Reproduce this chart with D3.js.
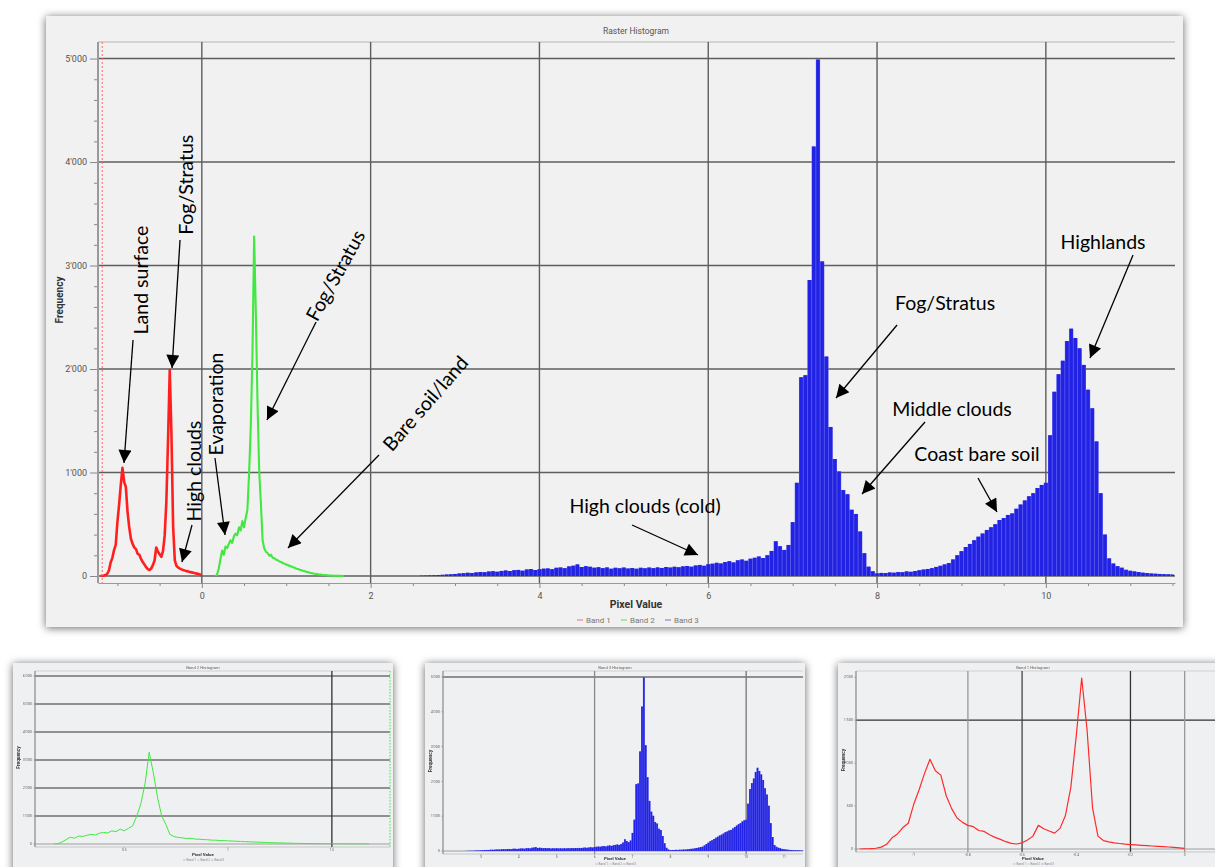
<!DOCTYPE html>
<html>
<head>
<meta charset="utf-8">
<script src="https://d3js.org/d3.v7.min.js"></script>
<style>
  body { margin: 0; background: #fff; }
  svg { display: block; }
  .note { font-family: Lato, "Open Sans", sans-serif; font-size: 19.5px; fill: #000; }
</style>
</head>
<body>
<svg id="chart" width="1215" height="867"></svg>
<script>

// Band 1 (red) - bins of 0.02 starting at -1.20
var band1Start = -1.20, band1Step = 0.02;
var band1 = [0, 2, 4, 9, 22, 55, 130, 175, 250, 300,
             520, 690, 880, 1045, 910, 860, 620, 470, 360, 310,
             275, 260, 215, 205, 165, 135, 112, 85, 66, 58,
             72, 105, 150, 275, 235, 210, 185, 240, 390, 720,
             1320, 1990, 1380, 480, 150, 98, 82, 72, 64, 57,
             52, 47, 43, 39, 35, 31, 27, 23, 19, 14, 8];

// Band 2 (green) - bins of 0.02 starting at 0.16
var band2Start = 0.16, band2Step = 0.02;
var band2 = [0, 12, 70, 160, 245, 205, 285, 270, 310, 345,
             320, 385, 410, 395, 470, 440, 530, 470, 560, 640,
             990, 1440, 2150, 3280, 2540, 1670, 1010, 700, 345, 265,
             235, 220, 196, 205, 176, 172, 158, 152, 140, 136,
             124, 120, 110, 106, 97, 93, 84, 80, 71, 67,
             60, 56, 50, 46, 40, 37, 32, 29, 25, 22,
             19, 16, 14, 12, 10, 9, 8, 6, 5, 4,
             3, 2, 2, 1, 1, 0, 0];

// Band 3 (blue) - bins of 0.05 starting at 2.60
var band3Start = 2.60, band3Step = 0.05;
var band3 = [3, 4, 6, 7, 9, 11, 14, 16, 20, 24,
             27, 31, 29, 35, 38, 36, 43, 46, 41, 49,
             53, 48, 56, 59, 51, 63, 67, 58, 65, 71,
             73, 66, 79, 82, 75, 93, 99, 112, 87, 95,
             89, 80, 85, 76, 83, 70, 79, 74, 81, 72,
             77, 70, 79, 74, 81, 76, 83, 78, 87, 81,
             89, 84, 93, 97, 90, 101, 107, 98, 113, 119,
             127, 121, 135, 143, 131, 151, 159, 147, 167, 176,
             188, 174, 200, 242, 335, 288, 252, 300, 520, 900,
             1920, 1940, 2860, 4150, 4990, 3040, 2120, 1440, 1130, 1010,
             830, 790, 640, 600, 430, 220, 90, 45, 25, 30,
             28, 34, 32, 38, 36, 44, 40, 48, 55, 62,
             68, 76, 88, 98, 112, 125, 160, 200, 240, 280,
             310, 345, 380, 410, 445, 470, 500, 540, 560, 590,
             605, 650, 690, 730, 770, 800, 850, 880, 900, 1360,
             1780, 1950, 2080, 2270, 2390, 2300, 2200, 2040, 1800, 1620,
             1300, 800, 400, 170, 120, 95, 80, 60, 50, 44,
             38, 32, 28, 24, 22, 20, 18, 16, 14];

var xTicks = [0, 2, 4, 6, 8, 10];
var yTicks = [0, 1000, 2000, 3000, 4000, 5000];
var legendLabels = ["Band 1", "Band 2", "Band 3"];
var legendColors = ["#f29a9a", "#92e092", "#9d9de6"];

var notes = [
  {label: "Land surface", tx: -0.73, ty: 2860, rot: -90, sx: -0.815, sy: 2280, ex: -0.922, ey: 1092},
  {label: "Fog/Stratus", tx: -0.19, ty: 3780, rot: -90, sx: -0.258, sy: 3246, ex: -0.353, ey: 2010},
  {label: "High clouds", tx: -0.093, ty: 1014, rot: -90, sx: -0.116, sy: 493, ex: -0.235, ey: 135},
  {label: "Evaporation", tx: 0.168, ty: 1662, rot: -90, sx: 0.156, sy: 1140, ex: 0.275, ey: 396},
  {label: "Fog/Stratus", tx: 1.578, ty: 2908, rot: -61, sx: 1.353, sy: 2454, ex: 0.772, ey: 1507},
  {label: "Bare soil/land", tx: 2.644, ty: 1671, rot: -49, sx: 2.099, sy: 1169, ex: 1.021, ey: 271},
  {label: "High clouds (cold)", tx: 5.251, ty: 686, rot: 0, sx: 5.097, sy: 493, ex: 5.879, ey: 203},
  {label: "Fog/Stratus", tx: 8.806, ty: 2638, rot: 0, sx: 8.237, sy: 2425, ex: 7.514, ey: 1720},
  {label: "Middle clouds", tx: 8.888, ty: 1623, rot: 0, sx: 8.568, sy: 1488, ex: 7.822, ey: 792},
  {label: "Coast bare soil", tx: 9.184, ty: 1188, rot: 0, sx: 9.196, sy: 947, ex: 9.421, ey: 618},
  {label: "Highlands", tx: 10.677, ty: 3237, rot: 0, sx: 11.033, sy: 3101, ex: 10.523, ey: 2106}
];

function bins(values, start, step) {
  return values.map(function(v, i) { return {x: start + i * step, v: v}; });
}
var red = bins(band1, band1Start, band1Step);
var green = bins(band2, band2Start, band2Step);
var blue = bins(band3, band3Start, band3Step);

var fmt = d3.formatLocale({decimal: ".", thousands: "'", grouping: [3], currency: ["", ""]}).format(",");
var axisFont = "Roboto, 'Noto Sans', sans-serif";

var svg = d3.select("#chart");
var defs = svg.append("defs");

var shadow = defs.append("filter").attr("id", "shadow")
    .attr("x", "-5%").attr("y", "-5%").attr("width", "110%").attr("height", "115%");
shadow.append("feDropShadow").attr("dx", 0).attr("dy", 1).attr("stdDeviation", 4)
    .attr("flood-color", "#000").attr("flood-opacity", 0.6);

defs.append("filter").attr("id", "soft")
  .append("feGaussianBlur").attr("stdDeviation", 0.45);

defs.append("marker").attr("id", "head")
    .attr("viewBox", "0 0 10 10").attr("refX", 10).attr("refY", 5)
    .attr("markerUnits", "userSpaceOnUse")
    .attr("markerWidth", 15).attr("markerHeight", 13).attr("orient", "auto")
  .append("path").attr("d", "M0,0 L10,5 L0,10 z").attr("fill", "#000");

function drawLine(g, sx, sy, data, color, width) {
  g.append("path").datum(data)
    .attr("fill", "none").attr("stroke", color).attr("stroke-width", width)
    .attr("stroke-linejoin", "round")
    .attr("d", d3.line().x(d => sx(d.x)).y(d => sy(d.v)));
}

function drawBars(g, sx, sy, data, step, color, light) {
  var w = sx(step) - sx(0);
  g.append("path").datum(data).attr("fill", light)
    .attr("d", d3.area().curve(d3.curveStep).x(d => sx(d.x)).y0(sy(0)).y1(d => sy(d.v)));
  g.selectAll(null).data(data).join("rect")
    .attr("x", d => sx(d.x) - w * 0.4).attr("width", w * 0.8)
    .attr("y", d => sy(d.v)).attr("height", d => sy(0) - sy(d.v))
    .attr("fill", color);
}

// ---------- main histogram ----------
svg.append("rect").attr("x", 46).attr("y", 16).attr("width", 1137).attr("height", 611)
    .attr("fill", "#f1f1f1").attr("filter", "url(#shadow)");

var plot = {left: 98, right: 1175, top: 42, base: 576, axisY: 583};
var x = d3.scaleLinear().domain([-1.23, 11.53]).range([plot.left, plot.right]);
var y = d3.scaleLinear().domain([0, 5160]).range([plot.base, plot.top]);

svg.append("line").attr("x1", plot.left).attr("x2", plot.right)
    .attr("y1", plot.top).attr("y2", plot.top).attr("stroke", "#b5b5b5");

svg.append("g").selectAll("line").data(yTicks).join("line")
    .attr("x1", plot.left).attr("x2", plot.right)
    .attr("y1", d => y(d)).attr("y2", d => y(d))
    .attr("stroke", "#5e5e5e").attr("stroke-width", 1.4);

svg.append("g").selectAll("line").data(xTicks).join("line")
    .attr("x1", d => x(d)).attr("x2", d => x(d))
    .attr("y1", plot.top).attr("y2", plot.axisY)
    .attr("stroke", "#5e5e5e").attr("stroke-width", 1.4);

defs.append("clipPath").attr("id", "mainclip").append("rect")
    .attr("x", plot.left + 1).attr("y", plot.top)
    .attr("width", plot.right - plot.left).attr("height", plot.base - plot.top + 1);

var series = svg.append("g").attr("clip-path", "url(#mainclip)");
drawBars(series, x, y, blue, band3Step, "#2222e4", "#5c5cec");
drawLine(series, x, y, green, "#40e840", 2.1);
drawLine(series, x, y, red, "#ff1f1f", 2.6);

// red dotted marker near the left edge
svg.append("line").attr("x1", x(-1.18)).attr("x2", x(-1.18))
    .attr("y1", plot.top).attr("y2", plot.axisY)
    .attr("stroke", "#ff6b6b").attr("stroke-dasharray", "2,2");

// y axis
var yMinor = d3.range(0, 5160, 200).filter(d => yTicks.indexOf(d) < 0);
svg.append("g").attr("transform", "translate(" + plot.left + ",0)")
    .call(d3.axisLeft(y).tickValues(yMinor).tickSize(4).tickFormat(""))
    .call(g => g.select(".domain").remove())
    .selectAll("line").attr("stroke", "#888");
var yAxis = svg.append("g").attr("transform", "translate(" + plot.left + ",0)")
    .call(d3.axisLeft(y).tickValues(yTicks).tickSize(8).tickPadding(3).tickFormat(fmt));
yAxis.select(".domain").remove();
yAxis.selectAll("line").attr("stroke", "#888");
yAxis.selectAll("text").attr("font-family", axisFont).attr("font-size", 9).attr("fill", "#555");
svg.append("line").attr("x1", plot.left).attr("x2", plot.left)
    .attr("y1", plot.top).attr("y2", plot.axisY).attr("stroke", "#9a9a9a").attr("stroke-width", 2);

// x axis
var xMinor = d3.range(-1, 11.6, 0.5).filter(d => xTicks.indexOf(d) < 0);
svg.append("g").attr("transform", "translate(0," + plot.axisY + ")")
    .call(d3.axisBottom(x).tickValues(xMinor).tickSize(3).tickFormat(""))
    .call(g => g.select(".domain").remove())
    .selectAll("line").attr("stroke", "#888");
var xAxis = svg.append("g").attr("transform", "translate(0," + plot.axisY + ")")
    .call(d3.axisBottom(x).tickValues(xTicks).tickSize(5).tickPadding(5).tickSizeOuter(0));
xAxis.select(".domain").attr("stroke", "#999");
xAxis.selectAll("line").attr("stroke", "#888");
xAxis.selectAll("text").attr("font-family", axisFont).attr("font-size", 9).attr("fill", "#555");

// titles
svg.append("text").attr("x", 636).attr("y", 34).attr("text-anchor", "middle")
    .attr("font-family", axisFont).attr("font-size", 8.5).attr("fill", "#555")
    .text("Raster Histogram");
svg.append("text").attr("transform", "translate(63,300) rotate(-90)").attr("text-anchor", "middle")
    .attr("font-family", axisFont).attr("font-size", 10).attr("font-weight", "bold").attr("fill", "#333")
    .text("Frequency");
svg.append("text").attr("x", 636).attr("y", 608).attr("text-anchor", "middle")
    .attr("font-family", axisFont).attr("font-size", 10.5).attr("font-weight", "bold").attr("fill", "#333")
    .text("Pixel Value");

var legend = svg.append("g").selectAll("g").data(legendLabels).join("g")
    .attr("transform", (d, i) => "translate(" + (577 + i * 44) + ",620)");
legend.append("line").attr("x1", 0).attr("x2", 6).attr("y1", 0).attr("y2", 0)
    .attr("stroke", (d, i) => legendColors[i]).attr("stroke-width", 1.5);
legend.append("text").attr("x", 9).attr("y", 3)
    .attr("font-family", axisFont).attr("font-size", 8).attr("fill", "#777").text(d => d);

// annotations
var ann = svg.append("g");
ann.selectAll("line").data(notes).join("line")
    .attr("x1", d => x(d.sx)).attr("y1", d => y(d.sy))
    .attr("x2", d => x(d.ex)).attr("y2", d => y(d.ey))
    .attr("stroke", "#000").attr("stroke-width", 1.3)
    .attr("marker-end", "url(#head)");
ann.selectAll("text").data(notes).join("text")
    .attr("class", "note")
    .attr("transform", d => "translate(" + x(d.tx) + "," + y(d.ty) + ") rotate(" + d.rot + ")")
    .attr("text-anchor", "middle").attr("dominant-baseline", "central")
    .text(d => d.label);

// ---------- small histograms ----------
function drawThumb(o) {
  var g = svg.append("g");
  g.append("rect").attr("x", o.box[0]).attr("y", o.box[1]).attr("width", o.box[2]).attr("height", o.box[3])
      .attr("fill", "#eff0f2").attr("filter", "url(#shadow)");
  var c = g.append("g").attr("filter", "url(#soft)");
  var tx = d3.scaleLinear().domain(o.xDomain).range(o.xRange);
  var ty = d3.scaleLinear().domain(o.yDomain).range(o.yRange);
  var x0 = o.xRange[0], x1 = o.xRange[1], yb = o.yRange[0], yt = o.yRange[1];

  c.append("line").attr("x1", x0).attr("x2", x1).attr("y1", yt).attr("y2", yt).attr("stroke", "#bbb").attr("stroke-width", 0.6);
  c.selectAll(".hg").data(o.hGrid).join("line")
      .attr("x1", x0).attr("x2", x1).attr("y1", d => ty(d)).attr("y2", d => ty(d))
      .attr("stroke", "#333").attr("stroke-width", 1.1);
  c.append("line").attr("x1", x0).attr("x2", x1).attr("y1", yb).attr("y2", yb).attr("stroke", "#888").attr("stroke-width", 0.8);
  c.selectAll(".vg").data(o.vGrid).join("line")
      .attr("x1", d => tx(d[0])).attr("x2", d => tx(d[0])).attr("y1", yt).attr("y2", yb + 3)
      .attr("stroke", d => d[1]).attr("stroke-width", 1.3);

  defs.append("clipPath").attr("id", "clip" + o.id).append("rect")
      .attr("x", x0 + 0.5).attr("y", yt).attr("width", x1 - x0).attr("height", yb - yt + 0.5);
  var s = c.append("g").attr("clip-path", "url(#clip" + o.id + ")");
  o.draw(s, tx, ty);

  if (o.marker !== undefined) {
    c.append("line").attr("x1", tx(o.marker[0])).attr("x2", tx(o.marker[0])).attr("y1", yt).attr("y2", yb + 3)
        .attr("stroke", o.marker[1]).attr("stroke-dasharray", "1.5,1.5");
  }

  // axes
  c.append("line").attr("x1", x0).attr("x2", x0).attr("y1", yt).attr("y2", yb + 3).attr("stroke", "#888").attr("stroke-width", 1.2);
  c.append("line").attr("x1", x0).attr("x2", x1).attr("y1", yb + 3).attr("y2", yb + 3).attr("stroke", "#aaa").attr("stroke-width", 0.6);
  c.selectAll(".yl").data(o.yLabels).join("text")
      .attr("x", x0 - 3).attr("y", d => ty(d) + 1.3).attr("text-anchor", "end")
      .attr("font-family", axisFont).attr("font-size", 3.8).attr("fill", "#666").text(fmt);
  c.selectAll(".yt").data(o.yLabels).join("line")
      .attr("x1", x0 - 2).attr("x2", x0).attr("y1", d => ty(d)).attr("y2", d => ty(d)).attr("stroke", "#888").attr("stroke-width", 0.5);
  c.selectAll(".xl").data(o.xLabels).join("text")
      .attr("x", d => tx(d)).attr("y", yb + 6.5).attr("text-anchor", "middle")
      .attr("font-family", axisFont).attr("font-size", 3.4).attr("fill", "#666").text(d => d);
  c.selectAll(".xt").data(o.xLabels).join("line")
      .attr("x1", d => tx(d)).attr("x2", d => tx(d)).attr("y1", yb + 3).attr("y2", yb + 4.2).attr("stroke", "#888").attr("stroke-width", 0.5);

  var mid = (o.box[0] + o.box[0] + o.box[2]) / 2;
  var below = Math.min(yb + 12, 860);
  c.append("text").attr("x", mid).attr("y", o.box[1] + 6).attr("text-anchor", "middle")
      .attr("font-family", axisFont).attr("font-size", 4.2).attr("fill", "#666").text(o.title);
  c.append("text").attr("transform", "translate(" + (o.box[0] + 7) + "," + ((yt + yb) / 2) + ") rotate(-90)")
      .attr("text-anchor", "middle").attr("font-family", axisFont).attr("font-size", 4.8)
      .attr("font-weight", "bold").attr("fill", "#333").text("Frequency");
  c.append("text").attr("x", mid).attr("y", below).attr("text-anchor", "middle")
      .attr("font-family", axisFont).attr("font-size", 4.4).attr("font-weight", "bold").attr("fill", "#333").text("Pixel Value");
  var lg = c.selectAll(".lg").data(legendLabels).join("g")
      .attr("transform", (d, i) => "translate(" + (mid - 20 + i * 14) + "," + (below + 4) + ")");
  lg.append("line").attr("x1", 0).attr("x2", 2.5).attr("stroke", (d, i) => legendColors[i]).attr("stroke-width", 0.8);
  lg.append("text").attr("x", 3.5).attr("y", 1.1).attr("font-family", axisFont).attr("font-size", 3.1)
      .attr("fill", "#888").text(d => d);
}

drawThumb({
  id: "b2", title: "Band 2 Histogram", box: [13, 663, 380, 215],
  xRange: [35, 390], xDomain: [0.07, 1.78], yRange: [844, 671], yDomain: [0, 6180],
  hGrid: [1000, 2000, 3000, 4000, 5000, 6000], vGrid: [[1.5, "#333"]],
  xLabels: [0.5, 1, 1.5], yLabels: [0, 1000, 2000, 3000, 4000, 5000, 6000],
  marker: [1.78, "#40e840"],
  draw: function(g, sx, sy) { drawLine(g, sx, sy, green, "#40e840", 1); }
});

drawThumb({
  id: "b3", title: "Band 3 Histogram", box: [425, 663, 380, 215],
  xRange: [443, 803], xDomain: [2, 11.5], yRange: [851, 671], yDomain: [0, 5172],
  hGrid: [5000], vGrid: [[6, "#888"], [10, "#777"]],
  xLabels: [3, 4, 5, 6, 7, 8, 9, 10, 11], yLabels: [0, 1000, 2000, 3000, 4000, 5000],
  draw: function(g, sx, sy) { drawBars(g, sx, sy, blue, band3Step, "#2323e6", "#7070ee"); }
});

drawThumb({
  id: "b1", title: "Band 1 Histogram", box: [838, 663, 390, 215],
  xRange: [856, 1215], xDomain: [-1.213, 0.112], yRange: [849, 671], yDomain: [0, 2072],
  hGrid: [1500], vGrid: [[-0.8, "#999"], [-0.6, "#444"], [-0.2, "#333"], [0, "#999"]],
  xLabels: [-1, -0.8, -0.6, -0.4, -0.2, 0], yLabels: [0, 500, 1000, 1500, 2000],
  draw: function(g, sx, sy) {
    drawLine(g, sx, sy, red, "#ff2a2a", 1.2);
    drawLine(g, sx, sy, green, "#40e840", 1);
  }
});

</script>
</body>
</html>
